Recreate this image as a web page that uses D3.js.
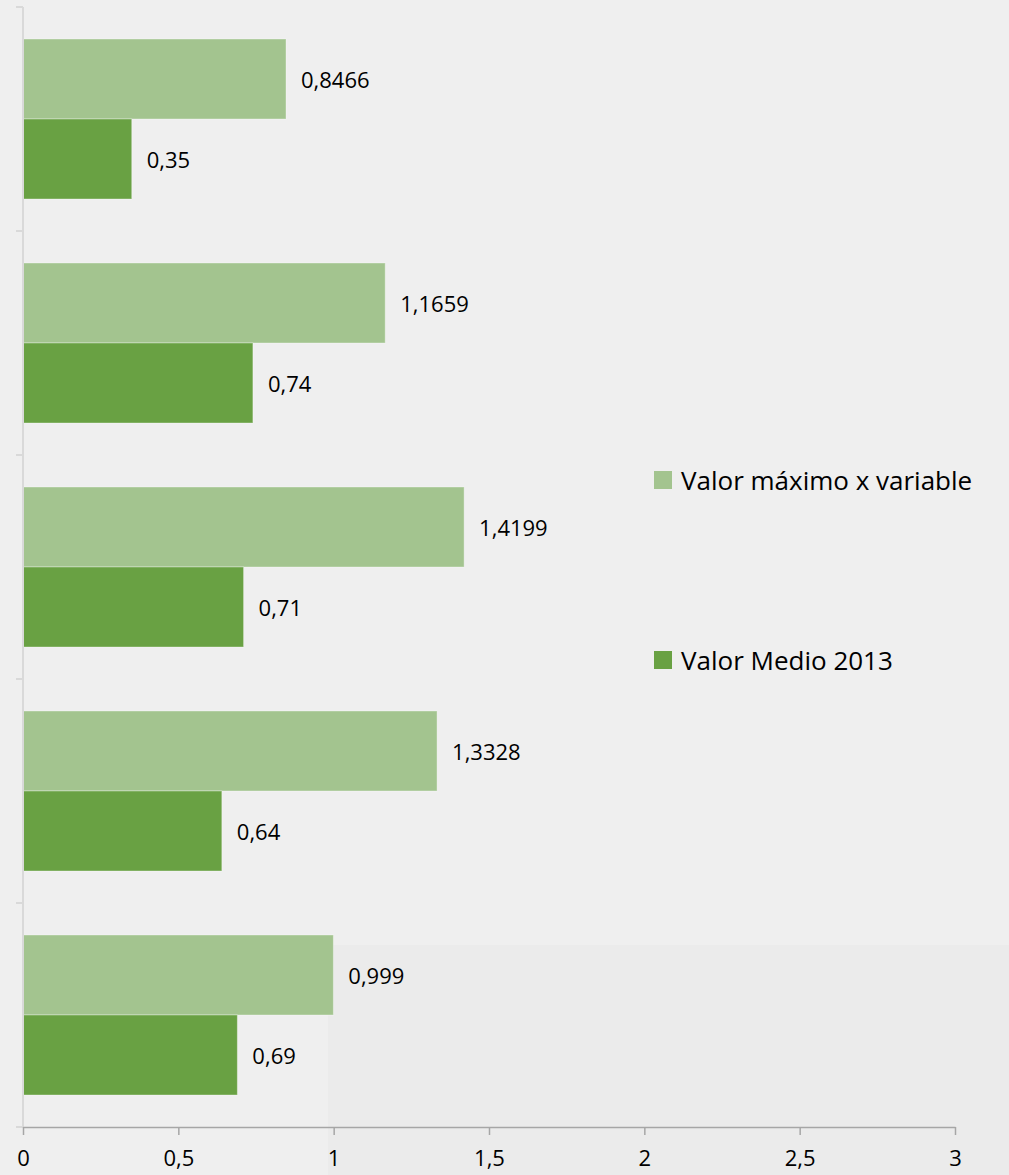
<!DOCTYPE html>
<html>
<head>
<meta charset="utf-8">
<script src="https://cdn.jsdelivr.net/npm/d3@7"></script>
<style>
  body { margin: 0; background: #efefef; }
  svg { display: block; font-family: "Open Sans", sans-serif; }
</style>
</head>
<body>
<div id="chart"></div>
<script>
/* Horizontal grouped bars, two series per category */

const categories = ["c1", "c2", "c3", "c4", "c5"];
const seriesNames = ["Valor máximo x variable", "Valor Medio 2013"];
const valorMaximo = [0.8466, 1.1659, 1.4199, 1.3328, 0.999];
const valorMedio = [0.35, 0.74, 0.71, 0.64, 0.69];
const labelMaximo = ["0,8466", "1,1659", "1,4199", "1,3328", "0,999"];
const labelMedio = ["0,35", "0,74", "0,71", "0,64", "0,69"];
const xTicks = [0, 0.5, 1, 1.5, 2, 2.5, 3];
const xTickLabels = ["0", "0,5", "1", "1,5", "2", "2,5", "3"];
const colors = ["#a3c48f", "#69a143"];

const width = 1009, height = 1175;
const margin = { top: 7, right: 54, bottom: 48, left: 23 };

const data = categories.map((c, i) => ({
    cat: c,
    values: [
        { key: 0, v: valorMaximo[i], label: labelMaximo[i] },
        { key: 1, v: valorMedio[i], label: labelMedio[i] }
    ]
}));

const svg = d3.select("#chart")
    .append("svg")
    .attr("width", width)
    .attr("height", height);

svg.append("rect")
    .attr("width", width).attr("height", height)
    .attr("fill", "#efefef");

// faint darker patch at the bottom right, as in the original
svg.append("rect")
    .attr("x", 328).attr("y", 945)
    .attr("width", width - 328).attr("height", height - 945)
    .attr("fill", "#ebebeb");

const x = d3.scaleLinear()
    .domain([0, 3])
    .range([margin.left, width - margin.right]);

const y = d3.scaleBand()
    .domain(categories)
    .range([margin.top, height - margin.bottom])
    .paddingInner(64 / 224)
    .paddingOuter(32 / 224);

const ySub = d3.scaleBand()
    .domain([0, 1])
    .range([0, y.bandwidth()]);

// bars
const group = svg.selectAll(".cat")
    .data(data)
    .join("g")
    .attr("class", "cat")
    .attr("transform", d => `translate(0,${y(d.cat)})`);

group.selectAll("rect")
    .data(d => d.values)
    .join("rect")
    .attr("x", x(0))
    .attr("y", d => ySub(d.key))
    .attr("width", d => x(d.v) - x(0))
    .attr("height", ySub.bandwidth())
    .attr("fill", d => colors[d.key])
    .attr("stroke", "rgba(255,255,255,0.35)")
    .attr("stroke-width", 1);

group.selectAll("text")
    .data(d => d.values)
    .join("text")
    .attr("x", d => x(d.v) + 15)
    .attr("y", d => ySub(d.key) + ySub.bandwidth() / 2)
    .attr("dominant-baseline", "central")
    .attr("font-size", 22)
    .attr("fill", "#000")
    .text(d => d.label);

// y axis (category axis, labels clipped away)
const yAxis = svg.append("g")
    .attr("transform", `translate(${margin.left},0)`);
yAxis.append("line")
    .attr("x1", 0).attr("x2", 0)
    .attr("y1", margin.top).attr("y2", height - margin.bottom)
    .attr("stroke", "#d9d9d9").attr("stroke-width", 2);
const yEdges = categories.map(c => y(c) - y.step() * y.paddingInner() / 2)
    .concat([height - margin.bottom]);
yAxis.selectAll(".ytick")
    .data(yEdges)
    .join("line")
    .attr("class", "ytick")
    .attr("x1", -7).attr("x2", 0)
    .attr("y1", d => d).attr("y2", d => d)
    .attr("stroke", "#d9d9d9").attr("stroke-width", 2);

// x axis
const xAxis = g => g
    .attr("transform", `translate(0,${height - margin.bottom})`)
    .call(d3.axisBottom(x)
        .tickValues(xTicks)
        .tickFormat((d, i) => xTickLabels[i])
        .tickSize(8)
        .tickSizeOuter(0)
        .tickPadding(15))
    .call(g => g.select(".domain").attr("stroke", "#a6a6a6").attr("stroke-width", 1.5))
    .call(g => g.selectAll(".tick line").attr("stroke", "#a6a6a6").attr("stroke-width", 1.5))
    .call(g => g.selectAll(".tick text")
        .attr("font-size", 22)
        .attr("font-family", "Open Sans, sans-serif")
        .attr("fill", "#000"));

svg.append("g").call(xAxis);

// legend
const legendY = [480, 660];
const legend = svg.selectAll(".legend")
    .data(seriesNames)
    .join("g")
    .attr("class", "legend")
    .attr("transform", (d, i) => `translate(654,${legendY[i]})`);

legend.append("rect")
    .attr("x", 0).attr("y", -9)
    .attr("width", 18).attr("height", 18)
    .attr("fill", (d, i) => colors[i]);

legend.append("text")
    .attr("x", 27).attr("y", 0)
    .attr("dominant-baseline", "central")
    .attr("font-size", 26)
    .attr("fill", "#000")
    .text(d => d);
</script>
</body>
</html>
